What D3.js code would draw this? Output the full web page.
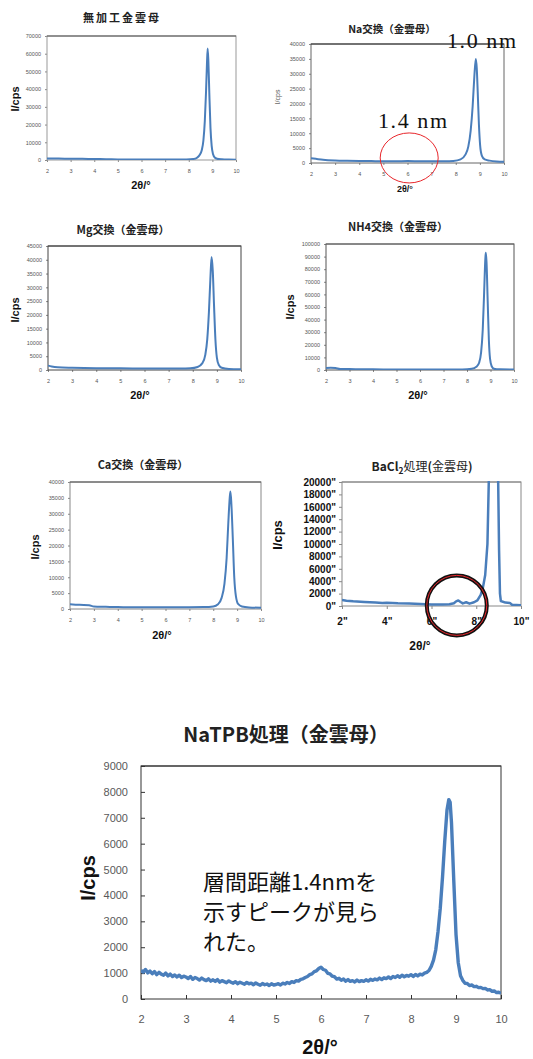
<!DOCTYPE html>
<html>
<head>
<meta charset="utf-8">
<script src="https://cdn.jsdelivr.net/npm/d3@7"></script>
<style>
  body { margin: 0; background: #fff; }
  svg { display: block; }
</style>
</head>
<body>
<svg id="fig" width="533" height="1059"></svg>
<script>
// ---- data: [2theta (deg), intensity (cps)] ----
const untreatedScan = [
  [2, 900], [2.5, 800], [3, 750], [3.5, 650], [4, 550], [4.5, 450], [5, 350], [5.5, 300],
  [6, 280], [6.5, 260], [7, 250], [7.5, 260], [7.9, 320], [8.2, 600], [8.35, 1300],
  [8.45, 2600], [8.55, 5500], [8.62, 11000], [8.68, 22000], [8.73, 38000], [8.77, 54000],
  [8.8, 63000], [8.83, 56000], [8.87, 38000], [8.92, 18000], [8.97, 8000], [9.03, 3200],
  [9.1, 1400], [9.2, 700], [9.4, 400], [9.7, 250], [10, 200]
];
const naScan = [
  [2, 1600], [2.2, 1400], [2.5, 1100], [3, 850], [3.5, 750], [4, 700], [4.5, 650], [5, 600],
  [5.5, 600], [6, 650], [6.5, 580], [7, 550], [7.5, 580], [7.9, 700], [8.2, 1200],
  [8.4, 2800], [8.52, 5500], [8.62, 11000], [8.7, 19000], [8.77, 29000], [8.83, 35000],
  [8.87, 32000], [8.91, 24000], [8.96, 13000], [9.01, 6000], [9.08, 2500], [9.2, 1200],
  [9.4, 800], [9.7, 500], [10, 400]
];
const mgScan = [
  [2, 1600], [2.15, 1300], [2.4, 1000], [3, 800], [3.5, 700], [4, 650], [5, 600], [6, 550],
  [7, 500], [7.5, 500], [7.9, 600], [8.2, 1100], [8.4, 2500], [8.52, 5500], [8.6, 11000],
  [8.67, 21000], [8.73, 33000], [8.78, 41000], [8.83, 36000], [8.88, 24000], [8.94, 11000],
  [9, 4500], [9.08, 1800], [9.2, 800], [9.5, 400], [10, 300]
];
const nh4Scan = [
  [2, 1500], [2.2, 1800], [2.4, 1600], [2.6, 800], [3, 700], [3.5, 600], [4, 500], [5, 400],
  [6, 350], [7, 350], [7.8, 400], [8.2, 900], [8.4, 2500], [8.52, 6000], [8.6, 14000],
  [8.67, 32000], [8.73, 62000], [8.78, 88000], [8.8, 93000], [8.83, 86000], [8.88, 55000],
  [8.93, 24000], [8.98, 9000], [9.05, 3000], [9.15, 1000], [9.4, 500], [10, 300]
];
const caScan = [
  [2, 1500], [2.4, 1300], [2.8, 1200], [3, 800], [3.5, 700], [4, 600], [5, 550], [6, 550],
  [7, 550], [7.6, 600], [8, 800], [8.2, 1500], [8.35, 3500], [8.47, 8000], [8.56, 16000],
  [8.63, 27000], [8.69, 35000], [8.72, 37000], [8.76, 33000], [8.82, 22000], [8.88, 10000],
  [8.95, 4000], [9.05, 1500], [9.2, 800], [9.5, 500], [10, 400]
];
const bacl2Scan = [
  [2, 950], [2.2, 850], [2.5, 750], [3, 650], [3.5, 550], [3.8, 500], [4, 520], [4.5, 450],
  [5, 420], [5.5, 330], [6, 250], [6.5, 230], [6.8, 280], [7, 450], [7.1, 750], [7.2, 900],
  [7.3, 650], [7.4, 420], [7.55, 600], [7.7, 380], [7.9, 600], [8.05, 900], [8.2, 1800],
  [8.3, 3000], [8.4, 5000], [8.5, 10000], [8.56, 20000], [8.62, 32000], [8.92, 32000],
  [8.98, 20000], [9.02, 9000], [9.06, 2000], [9.1, 800], [9.3, 550], [9.5, 500], [9.6, 200],
  [10, 120]
];
const natpbScan = [
  [2.00, 1100], [2.05, 1040], [2.10, 1140], [2.15, 1010], [2.20, 1080], [2.25, 980], [2.30, 1060],
  [2.35, 940], [2.40, 1030], [2.45, 960], [2.50, 920], [2.55, 1000], [2.60, 890], [2.65, 960],
  [2.70, 870], [2.75, 930], [2.80, 850], [2.85, 920], [2.90, 830], [2.95, 880], [3.00, 850],
  [3.05, 790], [3.10, 870], [3.15, 760], [3.20, 830], [3.25, 790], [3.30, 730], [3.35, 810],
  [3.40, 750], [3.45, 710], [3.50, 780], [3.55, 690], [3.60, 740], [3.65, 680], [3.70, 750],
  [3.75, 650], [3.80, 710], [3.85, 670], [3.90, 630], [3.95, 700], [4.00, 650], [4.05, 610],
  [4.10, 670], [4.15, 590], [4.20, 650], [4.25, 610], [4.30, 570], [4.35, 640], [4.40, 590],
  [4.45, 610], [4.50, 550], [4.55, 620], [4.60, 570], [4.65, 530], [4.70, 600], [4.75, 550],
  [4.80, 580], [4.85, 520], [4.90, 590], [4.95, 540], [5.00, 560], [5.05, 590], [5.10, 540],
  [5.15, 610], [5.20, 580], [5.25, 640], [5.30, 600], [5.35, 670], [5.40, 640], [5.45, 710],
  [5.50, 690], [5.55, 760], [5.60, 780], [5.65, 830], [5.70, 870], [5.75, 940], [5.80, 970],
  [5.85, 1060], [5.90, 1090], [5.95, 1180], [6.00, 1230], [6.05, 1140], [6.10, 1110],
  [6.15, 990], [6.20, 970], [6.25, 880], [6.30, 860], [6.35, 770], [6.40, 800], [6.45, 720],
  [6.50, 770], [6.55, 690], [6.60, 750], [6.65, 680], [6.70, 710], [6.75, 660], [6.80, 730],
  [6.85, 670], [6.90, 710], [6.95, 680], [7.00, 740], [7.05, 690], [7.10, 760], [7.15, 720],
  [7.20, 770], [7.25, 740], [7.30, 810], [7.35, 750], [7.40, 820], [7.45, 790], [7.50, 850],
  [7.55, 790], [7.60, 870], [7.65, 830], [7.70, 900], [7.75, 840], [7.80, 920], [7.85, 860],
  [7.90, 910], [7.95, 880], [8.00, 940], [8.05, 870], [8.10, 950], [8.15, 890], [8.20, 960],
  [8.25, 930], [8.30, 1000], [8.35, 1030], [8.40, 1100], [8.45, 1260], [8.50, 1500],
  [8.55, 1900], [8.60, 2600], [8.65, 3500], [8.70, 4700], [8.75, 6100], [8.80, 7300],
  [8.84, 7700], [8.87, 7600], [8.90, 6800], [8.95, 4600], [9.00, 2500], [9.05, 1400],
  [9.10, 900], [9.15, 720], [9.20, 610], [9.25, 600], [9.30, 520], [9.35, 540], [9.40, 480],
  [9.45, 490], [9.50, 440], [9.55, 450], [9.60, 400], [9.65, 410], [9.70, 350], [9.75, 360],
  [9.80, 300], [9.85, 310], [9.90, 250], [9.95, 260], [10.00, 220]
];

const thetaTicks = [2, 3, 4, 5, 6, 7, 8, 9, 10];
const thetaTicksCoarse = [2, 4, 6, 8, 10];
const countTicks70k = d3.range(0, 70001, 10000);
const countTicks40k = d3.range(0, 40001, 5000);
const countTicks45k = d3.range(0, 45001, 5000);
const countTicks100k = d3.range(0, 100001, 10000);
const countTicks20k = d3.range(0, 20001, 2000);
const countTicks9k = d3.range(0, 9001, 1000);

const svg = d3.select('#fig');
const blue = '#4a7ebb';
const jp = '"Noto Sans CJK JP", "Noto Sans", sans-serif';
const sans = '"Liberation Sans", Arial, sans-serif';

function drawPanel(cfg) {
    const g = svg.append('g');
    const x = d3.scaleLinear().domain([2, 10]).range([cfg.left, cfg.right]);
    const y = d3.scaleLinear().domain([0, cfg.yMax]).range([cfg.bottom, cfg.top]);

    // axes
    const yAxis = d3.axisLeft(y).tickValues(cfg.yTicks).tickSize(cfg.tick)
        .tickPadding(cfg.yPad).tickFormat(d => d + (cfg.suffix || ''));
    const xAxis = d3.axisBottom(x).tickValues(cfg.xTicks).tickSize(cfg.tick)
        .tickPadding(cfg.xPad).tickFormat(d => d + (cfg.suffix || ''));

    [g.append('g').attr('transform', `translate(0,${cfg.bottom})`).call(xAxis),
     g.append('g').attr('transform', `translate(${cfg.left},0)`).call(yAxis)]
        .forEach(a => {
            a.select('.domain').remove();
            a.selectAll('line').attr('stroke', '#888');
            a.selectAll('text')
                .attr('font-family', sans)
                .attr('font-size', cfg.tickFont)
                .attr('font-weight', cfg.tickBold ? 'bold' : 'normal')
                .attr('fill', cfg.tickColor);
        });

    // plot frame
    g.append('rect')
        .attr('x', cfg.left).attr('y', cfg.top)
        .attr('width', cfg.right - cfg.left).attr('height', cfg.bottom - cfg.top)
        .attr('fill', 'none').attr('stroke', cfg.frame).attr('stroke-width', cfg.frameWidth || 1);
    g.append('line')
        .attr('x1', cfg.left).attr('x2', cfg.right).attr('y1', cfg.top).attr('y2', cfg.top)
        .attr('stroke', cfg.topFrame || cfg.frame).attr('stroke-width', cfg.frameWidth || 1);

    // scan
    const clipId = 'clip' + cfg.id;
    g.append('clipPath').attr('id', clipId).append('rect')
        .attr('x', cfg.left).attr('y', cfg.top - 1)
        .attr('width', cfg.right - cfg.left).attr('height', cfg.bottom - cfg.top + 1);
    const line = d3.line().x(d => x(d[0])).y(d => y(d[1]))
        .curve(cfg.smooth ? d3.curveMonotoneX : d3.curveLinear);
    g.append('path')
        .datum(cfg.data)
        .attr('clip-path', `url(#${clipId})`)
        .attr('d', line)
        .attr('fill', 'none')
        .attr('stroke', blue)
        .attr('stroke-width', cfg.lineWidth)
        .attr('stroke-linejoin', 'round');

    // title
    const t = g.append('text')
        .attr('x', cfg.title.x).attr('y', cfg.title.y)
        .attr('text-anchor', 'middle')
        .attr('font-family', jp)
        .attr('font-size', cfg.title.size)
        .attr('font-weight', 'bold')
        .attr('letter-spacing', cfg.title.spacing || 0)
        .attr('fill', '#222');
    if (cfg.title.parts) {
        cfg.title.parts.forEach(p => {
            t.append('tspan')
                .attr('font-weight', p.bold ? 'bold' : 'normal')
                .attr('font-size', p.sub ? cfg.title.size * 0.7 : null)
                .attr('dy', p.dy || 0)
                .text(p.text);
        });
    } else {
        t.text(cfg.title.text);
    }

    // axis titles
    g.append('text')
        .attr('transform', `translate(${cfg.yLabel.x},${cfg.yLabel.y}) rotate(-90)`)
        .attr('text-anchor', 'middle')
        .attr('dominant-baseline', 'central')
        .attr('font-family', sans)
        .attr('font-size', cfg.yLabel.size)
        .attr('font-weight', cfg.yLabel.bold === false ? 'normal' : 'bold')
        .attr('fill', cfg.yLabel.color || '#111')
        .text('I/cps');
    g.append('text')
        .attr('x', cfg.xLabel.x).attr('y', cfg.xLabel.y)
        .attr('text-anchor', 'middle')
        .attr('font-family', sans)
        .attr('font-size', cfg.xLabel.size)
        .attr('font-weight', 'bold')
        .attr('fill', '#111')
        .text('2θ/°');

    return { g, x, y };
}

const small = { tick: 2, yPad: 4, xPad: 7, tickFont: 5.5, tickColor: '#555', lineWidth: 2,
                frame: '#999', topFrame: '#555', smooth: true, xTicks: thetaTicks };

// 無加工金雲母
drawPanel(Object.assign({}, small, {
    id: 1, left: 47, right: 236, top: 36, bottom: 160, yMax: 70000, yTicks: countTicks70k,
    data: untreatedScan,
    title: { text: '無加工金雲母', x: 122, y: 22, size: 11, spacing: 2 },
    yLabel: { x: 15, y: 99, size: 11 }, xLabel: { x: 141, y: 189, size: 11 }
}));

// Na交換
const na = drawPanel(Object.assign({}, small, {
    id: 2, left: 311, right: 504, top: 44, bottom: 163, yMax: 40000, yTicks: countTicks40k,
    data: naScan, frame: '#666', topFrame: '#333',
    title: { text: 'Na交換（金雲母）', x: 392, y: 33, size: 10.5 },
    yLabel: { x: 277, y: 97, size: 7, bold: false, color: '#555' }, xLabel: { x: 405, y: 192, size: 9 }
}));
na.g.append('ellipse')
    .attr('cx', na.x(6.07)).attr('cy', na.y(1700))
    .attr('rx', 29).attr('ry', 25)
    .attr('fill', 'none').attr('stroke', '#e8262b').attr('stroke-width', 1);
na.g.append('text')
    .attr('x', 447).attr('y', 48)
    .attr('font-family', '"Liberation Serif", "Times New Roman", serif')
    .attr('font-size', 22).attr('textLength', 69).attr('fill', '#111')
    .text('1.0 nm');
na.g.append('text')
    .attr('x', 378).attr('y', 128)
    .attr('font-family', '"Liberation Serif", "Times New Roman", serif')
    .attr('font-size', 22).attr('textLength', 69).attr('fill', '#111')
    .text('1.4 nm');

// Mg交換
drawPanel(Object.assign({}, small, {
    id: 3, left: 48, right: 241, top: 246, bottom: 370, yMax: 45000, yTicks: countTicks45k,
    data: mgScan, frame: '#444', topFrame: '#444',
    title: { text: 'Mg交換（金雲母）', x: 123, y: 234, size: 11 },
    yLabel: { x: 15, y: 310, size: 11 }, xLabel: { x: 140, y: 399, size: 11 }
}));

// NH4交換
drawPanel(Object.assign({}, small, {
    id: 4, left: 326, right: 514, top: 244, bottom: 370, yMax: 100000, yTicks: countTicks100k,
    data: nh4Scan, frame: '#555', topFrame: '#666',
    title: { text: 'NH4交換（金雲母）', x: 398, y: 231, size: 11 },
    yLabel: { x: 290, y: 307, size: 11 }, xLabel: { x: 418, y: 399, size: 11 }
}));

// Ca交換
drawPanel(Object.assign({}, small, {
    id: 5, left: 70, right: 261, top: 482, bottom: 609, yMax: 40000, yTicks: countTicks40k,
    data: caScan, frame: '#888', topFrame: '#555',
    title: { text: 'Ca交換（金雲母）', x: 143, y: 469, size: 11 },
    yLabel: { x: 35, y: 547, size: 11 }, xLabel: { x: 162, y: 639, size: 11 }
}));

// BaCl2処理
const ba = drawPanel({
    id: 6, left: 342, right: 521, top: 482, bottom: 606, yMax: 20000, yTicks: countTicks20k,
    xTicks: thetaTicksCoarse, suffix: '"', tick: 3, yPad: 3, xPad: 9, tickFont: 10, tickBold: true,
    tickColor: '#111', lineWidth: 2.5, frame: '#888', smooth: false, data: bacl2Scan,
    title: { x: 422, y: 471, size: 12, parts: [
        { text: 'BaCl', bold: true }, { text: '2', bold: true, sub: true, dy: 3 },
        { text: '処理', bold: false, dy: -3 }, { text: '(', bold: true },
        { text: '金雲母', bold: false }, { text: ')', bold: true }] },
    yLabel: { x: 277, y: 535, size: 13 }, xLabel: { x: 420, y: 650, size: 12 }
});
ba.g.append('circle')
    .attr('cx', ba.x(7.13)).attr('cy', ba.y(100)).attr('r', 30)
    .attr('fill', 'none').attr('stroke', '#111').attr('stroke-width', 4);
ba.g.append('circle')
    .attr('cx', ba.x(7.13)).attr('cy', ba.y(100)).attr('r', 30)
    .attr('fill', 'none').attr('stroke', '#e8262b').attr('stroke-width', 1);

// NaTPB処理
const tpb = drawPanel({
    id: 7, left: 141, right: 501, top: 766, bottom: 999, yMax: 9000, yTicks: countTicks9k,
    xTicks: thetaTicks, tick: -4, yPad: 13, xPad: 16, tickFont: 11, tickColor: '#595959',
    lineWidth: 3.4, frame: '#333', smooth: false, data: natpbScan,
    title: { text: 'NaTPB処理（金雲母）', x: 286, y: 742, size: 20 },
    yLabel: { x: 88, y: 878, size: 20 }, xLabel: { x: 320, y: 1054, size: 20 }
});
tpb.g.selectAll('.tick line').attr('stroke', '#333');
const note = tpb.g.append('text')
    .attr('font-family', jp)
    .attr('font-size', 22)
    .attr('fill', '#111');
['層間距離1.4nmを', '示すピークが見ら', 'れた。'].forEach((s, i) => {
    note.append('tspan').attr('x', 203).attr('y', 890 + i * 30).text(s);
});
</script>
</body>
</html>
